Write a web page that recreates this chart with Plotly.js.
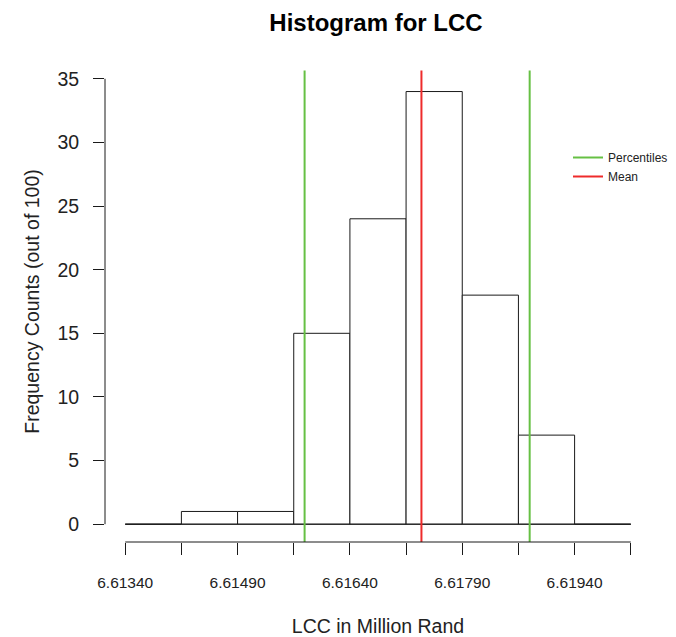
<!DOCTYPE html>
<html>
<head>
<meta charset="utf-8">
<script src="https://cdn.plot.ly/plotly-3.0.1.min.js"></script>
<style>
  html, body { margin: 0; padding: 0; background: #fff; }
  #chart { width: 676px; height: 637px; }
</style>
</head>
<body>
<div id="chart"></div>
<script>
// ---- data ----
const binEdges = [6.61340, 6.61415, 6.61490, 6.61565, 6.61640, 6.61715, 6.61790, 6.61865, 6.61940, 6.62015];
const binCounts = [0, 1, 1, 15, 24, 34, 18, 7, 0];
const percentileValues = [6.615795, 6.618800];
const meanValue = 6.617355;
const xTickLabels = ["6.61340", "", "6.61490", "", "6.61640", "", "6.61790", "", "6.61940", ""];
const yTickValues = [0, 5, 10, 15, 20, 25, 30, 35];

// ---- derived ----
const binWidth = binEdges[1] - binEdges[0];
const binCenters = binCounts.map((_, i) => (binEdges[i] + binEdges[i + 1]) / 2);
const xMin = binEdges[0], xMax = binEdges[binEdges.length - 1];
const xPad = (xMax - xMin) * 0.04;
const yTop = yTickValues[yTickValues.length - 1];
const yPad = yTop * 0.04;

const FONT = "Liberation Sans, Arial, sans-serif";
const INK = "#1a1a1a";
const GREEN = "#66C044";
const RED = "#EE2B2B";

const traces = [
  {
    type: "bar",
    x: binCenters,
    y: binCounts,
    width: binCounts.map(() => binWidth),
    marker: { color: "#ffffff", line: { color: INK, width: 1 } },
    showlegend: false,
    hoverinfo: "x+y"
  },
  {
    type: "scatter", mode: "lines",
    x: [xMin, xMax], y: [0, 0],
    line: { color: INK, width: 1 },
    showlegend: false, hoverinfo: "skip"
  },
  {
    type: "scatter", mode: "lines",
    name: "Percentiles",
    x: [percentileValues[0], percentileValues[0], null, percentileValues[1], percentileValues[1]],
    y: [0, 0.98, null, 0, 0.98],
    yaxis: "y2",
    line: { color: GREEN, width: 2 }
  },
  {
    type: "scatter", mode: "lines",
    name: "Mean",
    x: [meanValue, meanValue],
    y: [0, 0.98],
    yaxis: "y2",
    line: { color: RED, width: 2 }
  }
];

const layout = {
  width: 676, height: 637,
  margin: { l: 105, r: 25, t: 61, b: 95, autoexpand: false },
  paper_bgcolor: "#ffffff",
  plot_bgcolor: "#ffffff",
  font: { family: FONT, color: INK },
  title: {
    text: "<b>Histogram for LCC</b>",
    font: { family: FONT, size: 24, color: "#000" },
    xref: "container", x: 376 / 676, xanchor: "center",
    yref: "container", y: 1 - 23 / 637, yanchor: "middle"
  },
  xaxis: {
    range: [xMin - xPad, xMax + xPad],
    tickmode: "array",
    tickvals: binEdges,
    ticktext: xTickLabels,
    ticks: "outside", ticklen: 12, tickwidth: 1, tickcolor: INK,
    tickfont: { family: FONT, size: 15.5, color: "#222" },
    ticklabelstandoff: 14,
    showgrid: false, zeroline: false, showline: false,
    title: { text: "LCC in Million Rand", font: { family: FONT, size: 19.5, color: "#222" }, standoff: 29 },
    automargin: false, fixedrange: true
  },
  yaxis: {
    range: [-yPad, yTop + yPad],
    tickmode: "array",
    tickvals: yTickValues,
    ticks: "outside", ticklen: 11, tickwidth: 1, tickcolor: INK,
    tickfont: { family: FONT, size: 19.5, color: "#222" },
    ticklabelstandoff: 10,
    showgrid: false, zeroline: false, showline: false,
    title: { text: "Frequency Counts (out of 100)", font: { family: FONT, size: 19.5, color: "#222" }, standoff: 12 },
    automargin: false, fixedrange: true
  },
  yaxis2: {
    overlaying: "y", range: [0, 1], visible: false, fixedrange: true
  },
  shapes: [
    { type: "line", xref: "paper", yref: "y", x0: 0, x1: 0, y0: 0, y1: yTop, line: { color: INK, width: 1 } },
    { type: "line", xref: "x", yref: "paper", x0: xMin, x1: xMax, y0: 0, y1: 0, line: { color: INK, width: 1 } }
  ],
  legend: {
    x: (568 - 105) / 546, xanchor: "left",
    y: (542 - 143) / 481, yanchor: "top",
    bgcolor: "rgba(0,0,0,0)", borderwidth: 0,
    font: { family: FONT, size: 12, color: "#222" },
    itemwidth: 30, tracegroupgap: 0
  },
  bargap: 0,
  showlegend: true
};

Plotly.newPlot("chart", traces, layout, { staticPlot: true, displayModeBar: false });
</script>
</body>
</html>
